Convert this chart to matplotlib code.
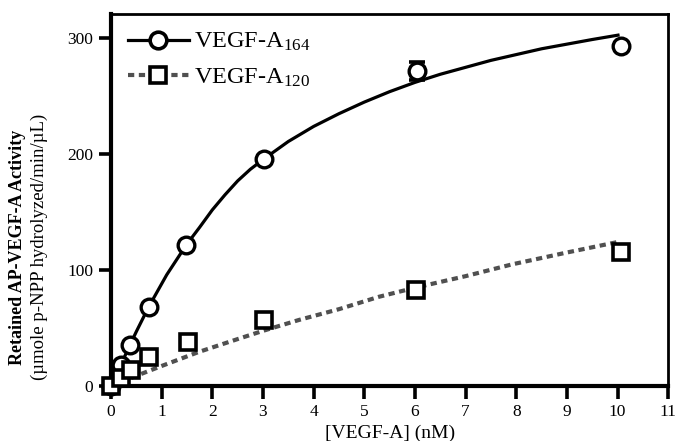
import matplotlib
matplotlib.use("Agg")
import matplotlib.pyplot as plt

plt.rcParams['font.family'] = ['Liberation Serif', 'DejaVu Serif']
plt.rcParams['mathtext.fontset'] = 'custom'
plt.rcParams['mathtext.rm'] = 'Liberation Serif'
plt.rcParams['mathtext.it'] = 'Liberation Serif:italic'

# measured points
conc_164 = [0, 0.19, 0.37, 0.74, 1.49, 3.02, 6.04, 10.06]
act_164 = [0, 18, 35, 68, 122, 196, 272, 293]
err_164 = [0, 0, 0, 0, 0, 0, 8, 0]

conc_120 = [0, 0.19, 0.4, 0.75, 1.51, 3.02, 6.03, 10.06]
act_120 = [0, 7, 14, 25, 38, 57, 83, 116]

# fitted curves
fit164_x = [0, 0.19, 0.37, 0.5, 0.74, 1.1, 1.49, 1.75, 2.0, 2.25, 2.5, 2.75, 3.02,
            3.5, 4.0, 4.5, 5.0, 5.5, 6.0, 6.5, 7.0, 7.5, 8.0, 8.5, 9.0, 9.5, 10.04]
fit164_y = [0, 18, 35, 47, 68, 96, 122, 137, 152, 165, 177, 187, 196,
            211, 224, 235, 245, 254, 262, 269, 275, 281, 286, 291, 295, 299, 303]

fit120_x = [0, 0.5, 1.0, 1.74, 2.5, 3.0, 3.71, 4.5, 5.29, 6.02, 7.0, 7.92, 9.0, 10.03]
fit120_y = [0, 8.8, 17.3, 29.5, 40.5, 47.6, 57, 66.3, 77, 85, 94.8, 105, 115.2, 124.5]

xticks = list(range(0, 12))
yticks = [0, 100, 200, 300]

fig = plt.figure(figsize=(6.77, 4.41), dpi=100)
ax = fig.add_axes([0.164, 0.1247, 0.823, 0.8435])

ax.plot(fit164_x, fit164_y, color='black', lw=2.3, solid_capstyle='butt', zorder=2)
ax.plot(fit120_x, fit120_y, color='#505050', lw=3.0, dashes=(1.5, 1.1), zorder=2)

ax.errorbar(conc_164, act_164, yerr=err_164, fmt='none', ecolor='black',
            elinewidth=2.2, capsize=6, capthick=2.6, zorder=3, clip_on=False)
ax.plot(conc_164, act_164, 'o', ms=12, mfc='white', mec='black', mew=2.4,
        zorder=4, clip_on=False)
ax.plot(conc_120, act_120, 's', ms=12, mfc='white', mec='black', mew=2.6,
        zorder=4, clip_on=False)

# legend proxies
h1, = ax.plot([], [], color='black', lw=2.3, marker='o', ms=12, mfc='white',
              mec='black', mew=2.6)
h2, = ax.plot([], [], color='#505050', lw=3.0, dashes=(1.5, 1.1), marker='s',
              ms=12, mfc='white', mec='black', mew=2.6)
ax.legend([h1, h2], ['VEGF-A$_{164}$', 'VEGF-A$_{120}$'], loc='upper left',
          frameon=False, fontsize=17.5, handlelength=2.5, handletextpad=0.2,
          borderaxespad=0.3, labelspacing=0.55, bbox_to_anchor=(0.0, 1.0))

ax.set_xlim(0, 11)
ax.set_ylim(0, 321)
ax.set_xticks(xticks)
ax.set_yticks(yticks)
ax.tick_params(axis='both', direction='out', length=9, width=2.6, labelsize=12.5,
               pad=4)
ax.tick_params(axis='x', top=False)
ax.tick_params(axis='y', right=False)
for s in ['left', 'bottom']:
    ax.spines[s].set_linewidth(3.0)
for s in ['top', 'right']:
    ax.spines[s].set_linewidth(2.0)

ax.set_xlabel('[VEGF-A] (nM)', fontsize=14, labelpad=3)

fig.text(0.026, 0.44, 'Retained AP-VEGF-A Activity', rotation=90,
         fontsize=13, fontweight='bold', ha='center', va='center')
fig.text(0.058, 0.44, '(\u00b5mole p-NPP hydrolyzed/min/\u00b5L)', rotation=90,
         fontsize=13.5, ha='center', va='center')

fig.savefig('out.png', dpi=100)
